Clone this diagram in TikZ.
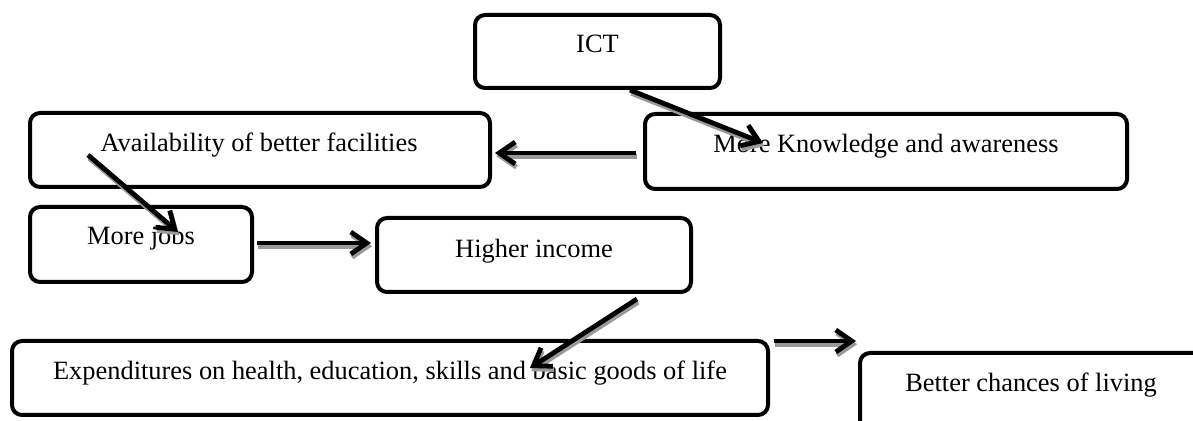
\documentclass[tikz,border=0pt]{standalone}
\usepackage{fontspec}
\setmainfont{Liberation Serif}
\usetikzlibrary{arrows.meta,calc}
\newcommand\bt[3]{\raisebox{#2}[0pt][0pt]{\rlap{\hspace*{#1}\makebox[0pt]{#3}}}}
\newcommand\conn[2]{%
  \draw[arr,draw=black!40,transform canvas={xshift=.6pt,yshift=-1.6pt}] #1 -- #2;
  \draw[arr] #1 -- #2;}
\begin{document}
\begin{tikzpicture}[x=0.5pt,y=-0.5pt,
  box/.style={draw=black,line width=2pt,rounded corners=5pt,fill=white,inner sep=0pt,
    font=\fontsize{13.2}{16}\selectfont},
  arr/.style={line width=2.4pt,-{Straight Barb[length=8pt,width=11pt]}}]
\useasboundingbox (0,0) rectangle (1193,421);
\clip (0,0) rectangle (1193,421);
\node[box,minimum width=122.5pt,minimum height=36.5pt] (ict) at (597.5,51.5) {\bt{0pt}{-0.75pt}{ICT}};
\node[box,minimum width=230pt,minimum height=37pt] (av) at (260,150) {\bt{-0.5pt}{-1pt}{Availability of better facilities}};
\node[box,minimum width=241pt,minimum height=37.5pt] (kn) at (886,151.5) {\bt{0pt}{-0.75pt}{More Knowledge and awareness}};
\node[box,minimum width=111pt,minimum height=37.5pt] (mj) at (141,244.5) {\bt{0pt}{-0.25pt}{More jobs}};
\node[box,minimum width=157pt,minimum height=37pt] (hi) at (534,255) {\bt{0pt}{-1.5pt}{Higher income}};
\node[box,minimum width=378pt,minimum height=37pt] (ex) at (390,378) {\bt{0pt}{-1pt}{Expenditures on health, education, skills and basic goods of life}};
\node[box,minimum width=200pt,minimum height=46pt] (bc) at (1060,399) {\bt{-14.5pt}{3.5pt}{Better chances of living}};
\conn{($(ict.south)+(32.5,0)$)}{($(kn.center)+(-123,-8.5)$)}
\conn{($(kn.west)+(-7,1.5)$)}{($(av.east)+(3,3)$)}
\conn{($(av.center)+(-172,5)$)}{($(mj.center)+(37,-12.5)$)}
\conn{($(mj.east)+(3,-1.5)$)}{($(hi.west)+(-4,-12)$)}
\conn{($(hi.center)+(103,44)$)}{($(ex.center)+(140,-10)$)}
\conn{($(ex.north east)+(4,2)$)}{($(bc.north west)+(-2,-10)$)}
\end{tikzpicture}
\end{document}
